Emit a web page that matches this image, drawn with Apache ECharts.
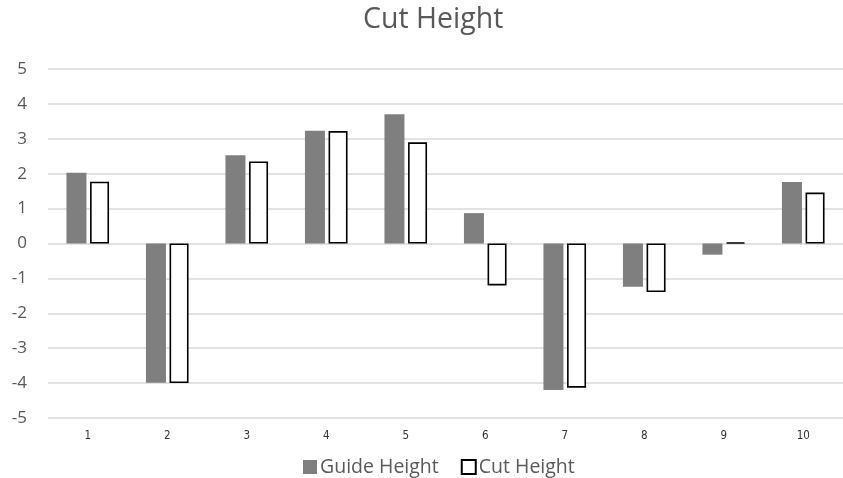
<!DOCTYPE html>
<html>
<head>
<meta charset="utf-8">
<script src="https://cdn.jsdelivr.net/npm/echarts@6/dist/echarts.min.js"></script>
<style>
  html, body { margin: 0; padding: 0; background: #fff; }
  #chart { width: 843px; height: 478px; }
</style>
</head>
<body>
<div id="chart"></div>
<script>
// Measurement index along the x axis
const categories = ['1', '2', '3', '4', '5', '6', '7', '8', '9', '10'];
// Guide heights per measurement
const guideHeight = [2.03, -3.99, 2.53, 3.23, 3.70, 0.87, -4.20, -1.24, -0.32, 1.76];
// Cut heights per measurement
const cutHeight = [1.77, -4.00, 2.35, 3.22, 2.90, -1.20, -4.13, -1.39, 0.03, 1.46];

const textColor = '#595959';
const font = 'Open Sans';

const chart = echarts.init(document.getElementById('chart'), null, { renderer: 'canvas' });
chart.setOption({
  animation: false,
  backgroundColor: '#ffffff',
  title: {
    text: 'Cut Height',
    left: 358,
    top: 0,
    textStyle: { color: textColor, fontFamily: font, fontSize: 28.5, fontWeight: 'normal' }
  },
  legend: {
    data: ['Guide Height', 'Cut Height'],
    left: 298,
    top: 452,
    itemWidth: 14,
    itemHeight: 14,
    itemGap: 22,
    icon: 'rect',
    textStyle: { color: textColor, fontFamily: font, fontSize: 19.5, padding: [0, 0, 0, -2] }
  },
  grid: { left: 48, top: 69, width: 798, height: 349, containLabel: false },
  xAxis: {
    type: 'category',
    data: categories,
    position: 'bottom',
    axisLine: { show: false, onZero: false },
    axisTick: { show: false },
    axisLabel: { color: '#333333', fontFamily: 'DejaVu Sans Condensed, Liberation Sans, sans-serif', fontSize: 11.5, margin: 12 }
  },
  yAxis: {
    type: 'value',
    min: -5,
    max: 5,
    interval: 1,
    axisLine: { show: false },
    axisTick: { show: false },
    axisLabel: { color: textColor, fontFamily: font, fontSize: 17, margin: 21 },
    splitLine: { lineStyle: { color: '#d9d9d9', width: 1.5 } }
  },
  series: [
    {
      name: 'Guide Height',
      type: 'bar',
      data: guideHeight,
      barWidth: 20,
      barGap: '18%',
      itemStyle: { color: '#7f7f7f' }
    },
    {
      name: 'Cut Height',
      type: 'bar',
      data: cutHeight,
      barWidth: 19,
      itemStyle: { color: '#ffffff', borderColor: '#000000', borderWidth: 1.6 }
    }
  ]
});
</script>
</body>
</html>
